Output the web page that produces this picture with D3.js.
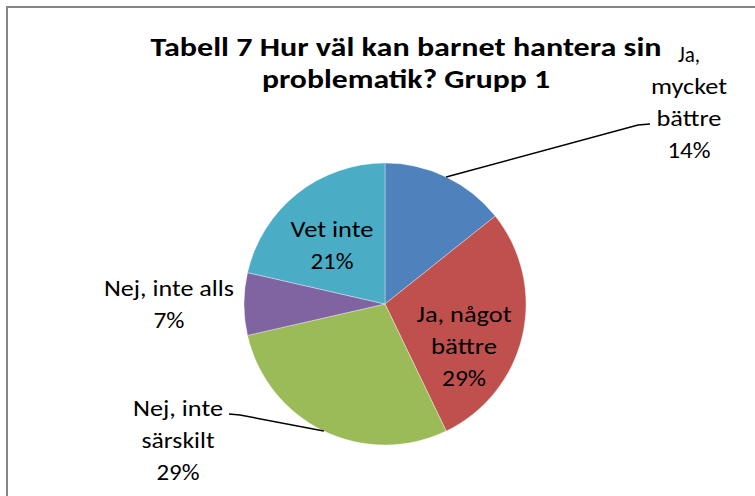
<!DOCTYPE html>
<html>
<head>
<meta charset="utf-8">
<script src="https://cdn.jsdelivr.net/npm/d3@7"></script>
<style>
  html, body { margin: 0; padding: 0; background: #fff; }
  svg { display: block; }
  text { font-family: Carlito, Calibri, Lato, "Open Sans", sans-serif; fill: #000; }
</style>
</head>
<body>
<svg id="chart" width="755" height="496"></svg>
<script>
// ---- data ----
const categories = ["Ja, mycket bättre", "Ja, något bättre", "Nej, inte särskilt", "Nej, inte alls", "Vet inte"];
const counts = [2, 4, 4, 1, 3];
const titleLines = ["Tabell 7 Hur väl kan barnet hantera sin", "problematik? Grupp 1"];
const labelLines = [
  ["Ja,", "mycket", "bättre"],
  ["Ja, något", "bättre"],
  ["Nej, inte", "särskilt"],
  ["Nej, inte alls"],
  ["Vet inte"]
];
const colors = ["#4F81BD", "#C0504D", "#9BBB59", "#8064A2", "#4BACC6"];

// ---- layout ----
const W = 755, H = 496;
const cx = 385, cy = 304, R = 141;
const lineH = 32;
// label block: x centre, first baseline (relative to pie centre), textLength per line
const labelLayout = [
  { dx: 304, y0: -242, widths: [22, 76, 65, 43], leader: [[253, -179], [265, -180]] },
  { dx: 79, y0: 18, widths: [95, 66, 44] },
  { dx: -207, y0: 112, widths: [90, 73, 43], leader: [[-145, 111], [-156, 110]] },
  { dx: -216, y0: -8, widths: [130, 31] },
  { dx: -53, y0: -67, widths: [83, 43] }
];

const svg = d3.select("#chart");
svg.append("rect").attr("width", W).attr("height", H).attr("fill", "#fff");
svg.append("rect")
  .attr("x", 7).attr("y", 7).attr("width", W + 10).attr("height", H + 10)
  .attr("fill", "none").attr("stroke", "#868686").attr("stroke-width", 2);

// title
const titleWidths = [511, 288];
const title = svg.append("text").attr("text-anchor", "middle")
  .style("font-weight", "bold").style("font-size", "26.5px");
titleLines.forEach((t, i) => {
  title.append("tspan").attr("x", 406).attr("y", 56 + i * lineH)
    .attr("textLength", titleWidths[i]).attr("lengthAdjust", "spacingAndGlyphs").text(t);
});

// pie
const total = d3.sum(counts);
const pie = d3.pie().sort(null).value(d => d)(counts);
const arc = d3.arc().innerRadius(0).outerRadius(R);
const g = svg.append("g").attr("transform", `translate(${cx},${cy})`);
g.selectAll("path.slice").data(pie).join("path")
  .attr("class", "slice")
  .attr("d", arc)
  .attr("fill", (d, i) => colors[i])
  .attr("stroke", "#ffffff").attr("stroke-opacity", 0.5).attr("stroke-width", 0.7);

// leader lines
pie.forEach((d, i) => {
  const L = labelLayout[i];
  if (!L.leader) return;
  const mid = (d.startAngle + d.endAngle) / 2;
  const p0 = [Math.sin(mid) * R, -Math.cos(mid) * R];
  g.append("polyline")
    .attr("points", [p0, ...L.leader].map(p => p.join(",")).join(" "))
    .attr("fill", "none").attr("stroke", "#000").attr("stroke-width", 1.5);
});

// labels
pie.forEach((d, i) => {
  const L = labelLayout[i];
  const pct = Math.round(d.value / total * 100) + "%";
  const lines = labelLines[i].concat([pct]);
  const t = g.append("text").attr("text-anchor", "middle").style("font-size", "23px");
  lines.forEach((s, j) => {
    t.append("tspan").attr("x", L.dx).attr("y", L.y0 + j * lineH)
      .attr("textLength", L.widths[j]).attr("lengthAdjust", "spacingAndGlyphs").text(s);
  });
});
</script>
</body>
</html>
